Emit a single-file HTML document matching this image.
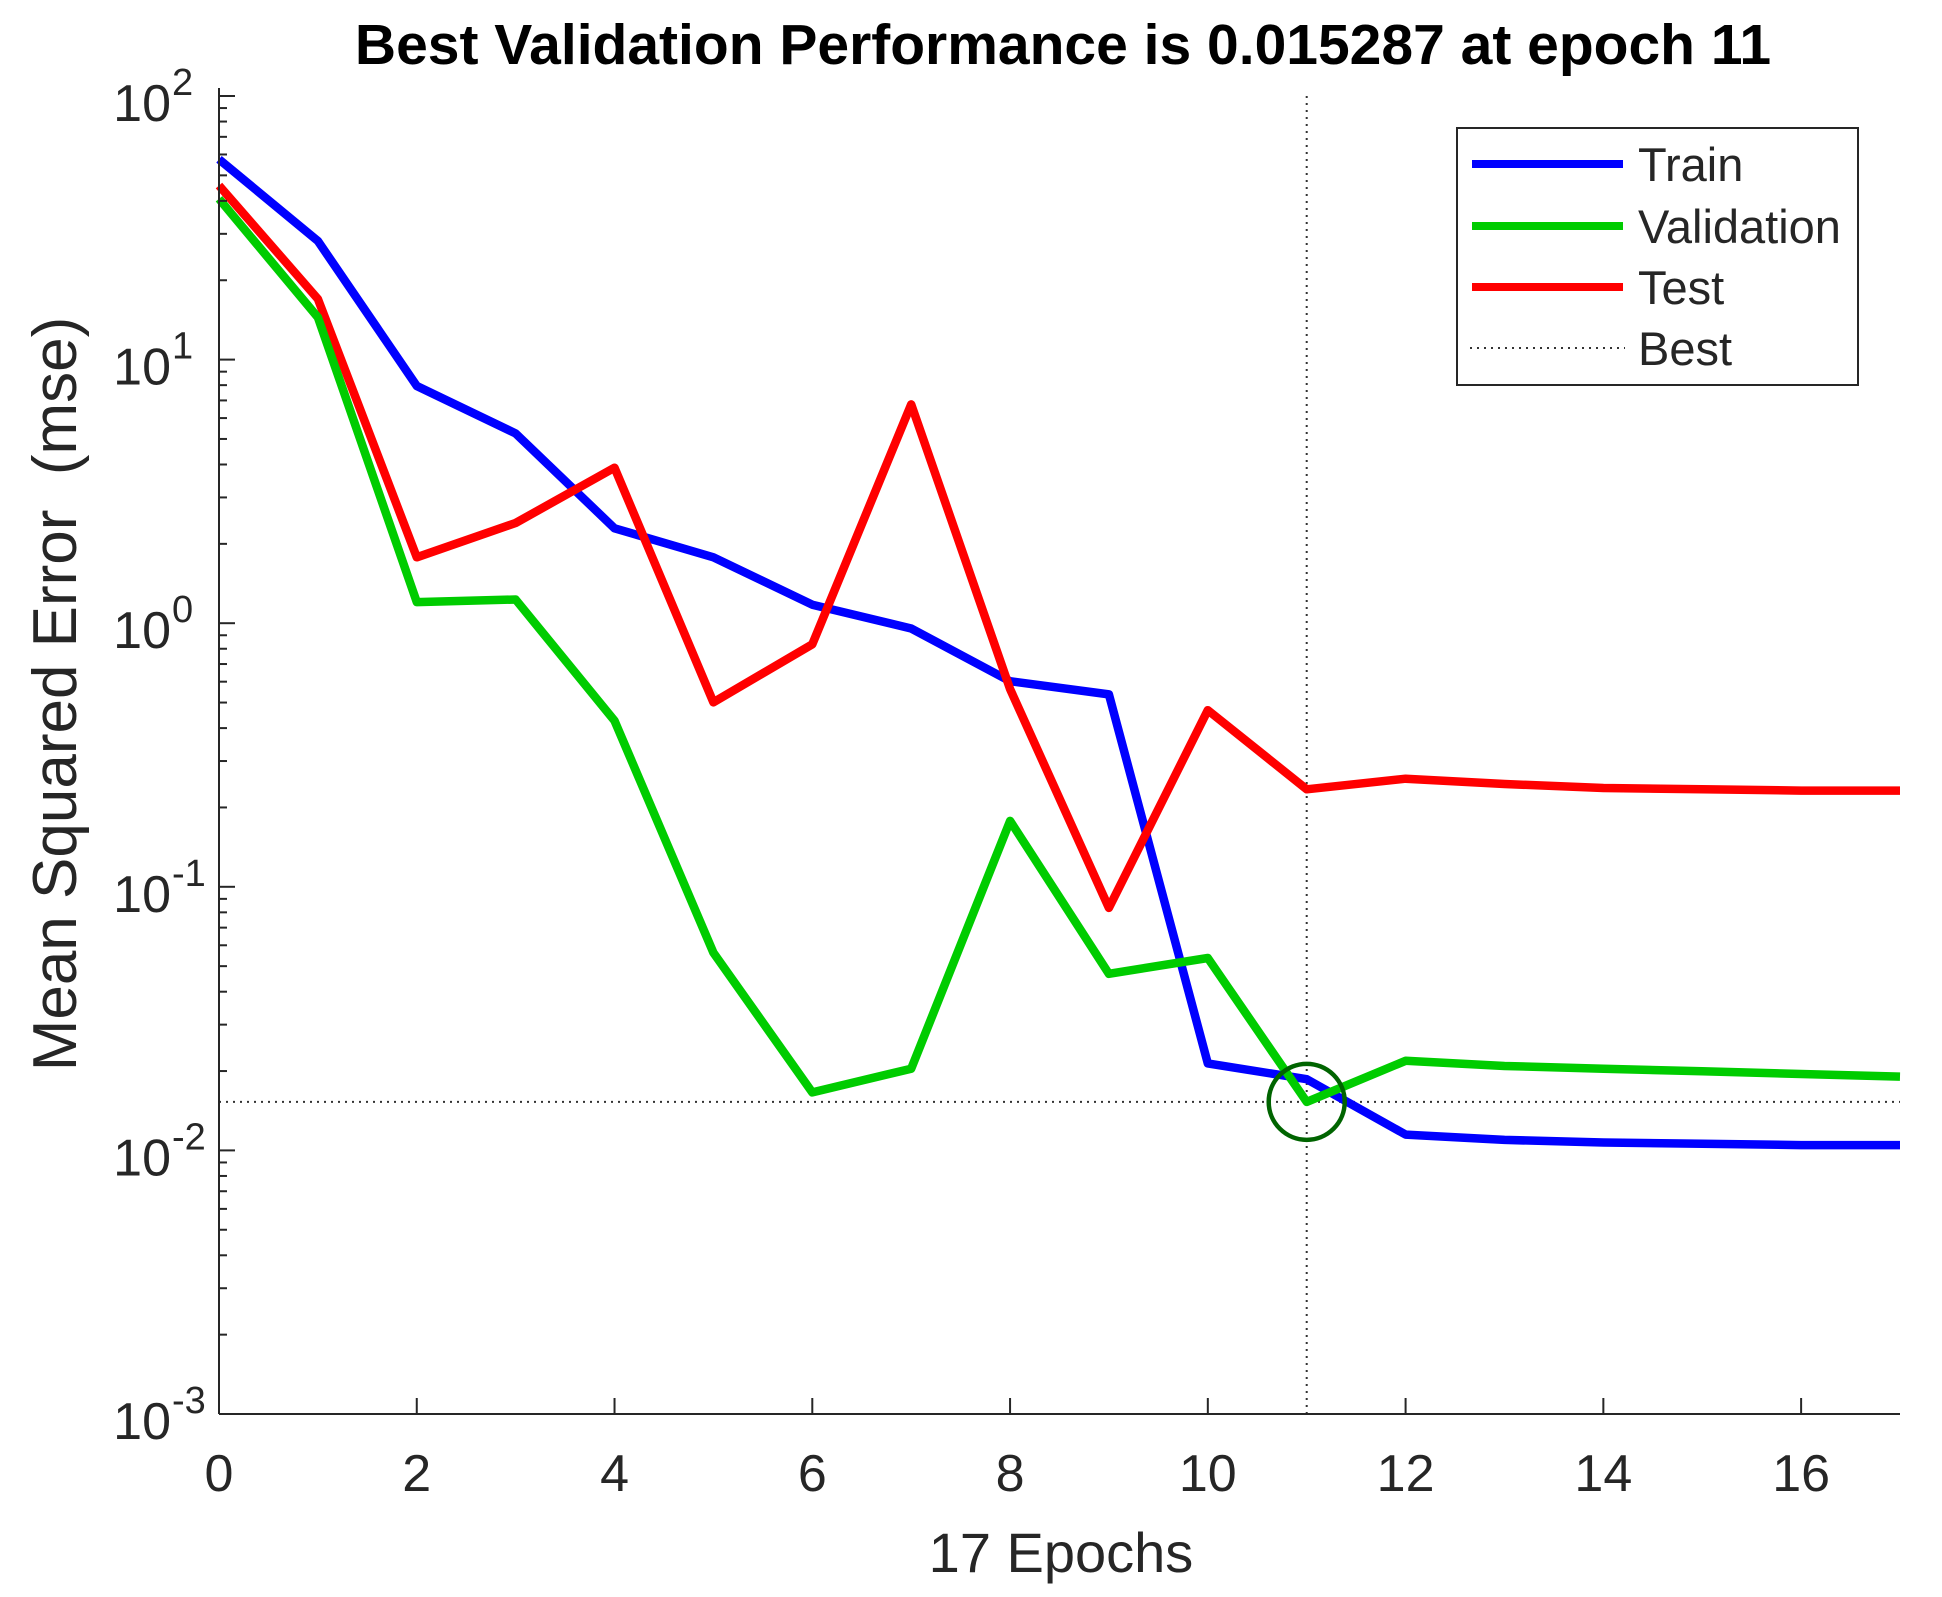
<!DOCTYPE html>
<html><head><meta charset="utf-8"><style>
html,body{margin:0;padding:0;background:#fff;}
svg{display:block;font-family:"Liberation Sans",Arial,sans-serif;}
</style></head><body>
<svg id="chart" width="1942" height="1597" viewBox="0 0 1942 1597">
<g id="grid"></g>
<g id="series"></g>
<g id="axes"></g>
</svg>
<script>
const epochs=[0,1,2,3,4,5,6,7,8,9,10,11,12,13,14,15,16,17];
const trainLog=[1.76,1.45,0.90,0.72,0.36,0.25,0.07,-0.02,-0.22,-0.27,-1.67,-1.73,-1.94,-1.96,-1.97,-1.975,-1.98,-1.98];
const valLog=[1.61,1.16,0.08,0.09,-0.37,-1.25,-1.78,-1.69,-0.75,-1.33,-1.27,-1.816,-1.66,-1.68,-1.69,-1.70,-1.71,-1.72];
const testLog=[1.66,1.23,0.25,0.38,0.59,-0.30,-0.08,0.83,-0.25,-1.08,-0.33,-0.63,-0.59,-0.61,-0.625,-0.63,-0.635,-0.635];
const xTicks=[0,2,4,6,8,10,12,14,16];
const yDecades=[2,1,0,-1,-2,-3];
const bestEpoch=11;
const bestLog=Math.log10(0.015287);

const L=219,R=1900,T=96,B=1414;
const xs=e=>L+(R-L)*e/17;
const ys=v=>T+(B-T)*(2-v)/5;
const NS='http://www.w3.org/2000/svg';
function mk(tag,attrs,parent){const el=document.createElementNS(NS,tag);for(const k in attrs)el.setAttribute(k,attrs[k]);parent.appendChild(el);return el;}
const axes=document.getElementById('axes'),series=document.getElementById('series'),grid=document.getElementById('grid');

let t=mk('text',{x:1063,y:64,'font-size':57,'font-weight':'bold','text-anchor':'middle',fill:'#000'},axes);
t.textContent='Best Validation Performance is 0.015287 at epoch 11';



let bv=mk('line',{x1:xs(bestEpoch),x2:xs(bestEpoch),y1:T,y2:B,stroke:'#333','stroke-width':2,'stroke-dasharray':'2 5'},grid);


let bh=mk('line',{x1:L,x2:R,y1:ys(bestLog),y2:ys(bestLog),stroke:'#333','stroke-width':2,'stroke-dasharray':'2 5'},grid);



function line(arr,color,name){
  const pts=arr.map((v,i)=>xs(epochs[i]).toFixed(1)+','+ys(v).toFixed(1)).join(' ');
  const p=mk('polyline',{points:pts,fill:'none',stroke:color,'stroke-width':8.5,'stroke-linejoin':'round'},series);
  
  
}
line(trainLog,'#0000ff','train-line');
line(testLog,'#ff0000','test-line');
line(valLog,'#00cc00','validation-line');

let c=mk('circle',{cx:xs(bestEpoch),cy:ys(bestLog),r:38,fill:'none',stroke:'#006400','stroke-width':4.5},series);



let ax=mk('line',{x1:L,x2:R,y1:B,y2:B,stroke:'#262626','stroke-width':2},axes);


let ay=mk('line',{x1:L,x2:L,y1:T-8,y2:B,stroke:'#262626','stroke-width':2},axes);



xTicks.forEach(v=>{
  mk('line',{x1:xs(v),x2:xs(v),y1:B,y2:B-16,stroke:'#262626','stroke-width':2},axes);
  const tx=mk('text',{x:xs(v),y:1491,'font-size':52,'text-anchor':'middle',fill:'#262626'},axes);
  tx.textContent=v;
  
  
});
yDecades.forEach(d=>{
  mk('line',{x1:L,x2:L+16,y1:ys(d),y2:ys(d),stroke:'#262626','stroke-width':2},axes);
  if(d>-3){for(let m=2;m<10;m++){const yy=ys(d-1+Math.log10(m));mk('line',{x1:L,x2:L+8,y1:yy,y2:yy,stroke:'#262626','stroke-width':2},axes);}}
  const g=mk('g',{},axes);
  
  
  const a=mk('text',{x:171,y:ys(d)+25,'font-size':52,'text-anchor':'end',fill:'#262626'},g);
  a.textContent='10';
  const b=mk('text',{x:172,y:ys(d)-1,'font-size':38,'text-anchor':'start',fill:'#262626'},g);
  b.textContent=String(d);
});
let xl=mk('text',{x:1061,y:1572,'font-size':56,'text-anchor':'middle',fill:'#262626'},axes);
xl.textContent='17 Epochs';


let yl=mk('text',{x:0,y:0,'font-size':62,'text-anchor':'middle',fill:'#262626',transform:'translate(76,694) rotate(-90)',style:'white-space:pre'},axes);
yl.textContent='Mean Squared Error  (mse)';



const lg=mk('g',{},axes);


mk('rect',{x:1457,y:128,width:401,height:257,fill:'#fff',stroke:'#262626','stroke-width':2},lg);
const entries=[['Train','#0000ff',164],['Validation','#00cc00',226],['Test','#ff0000',287],['Best','#333',348]];
entries.forEach(([n,col,y],i)=>{
  const g=mk('g',{},lg);
  
  
  if(i<3)mk('line',{x1:1472,x2:1623,y1:y,y2:y,stroke:col,'stroke-width':8},g);
  else mk('line',{x1:1470,x2:1625,y1:y,y2:y,stroke:col,'stroke-width':2,'stroke-dasharray':'2 5'},g);
  const tx=mk('text',{x:1638,y:y+17,'font-size':47,fill:'#262626'},g);
  tx.textContent=n;
});
</script>
</body></html>
